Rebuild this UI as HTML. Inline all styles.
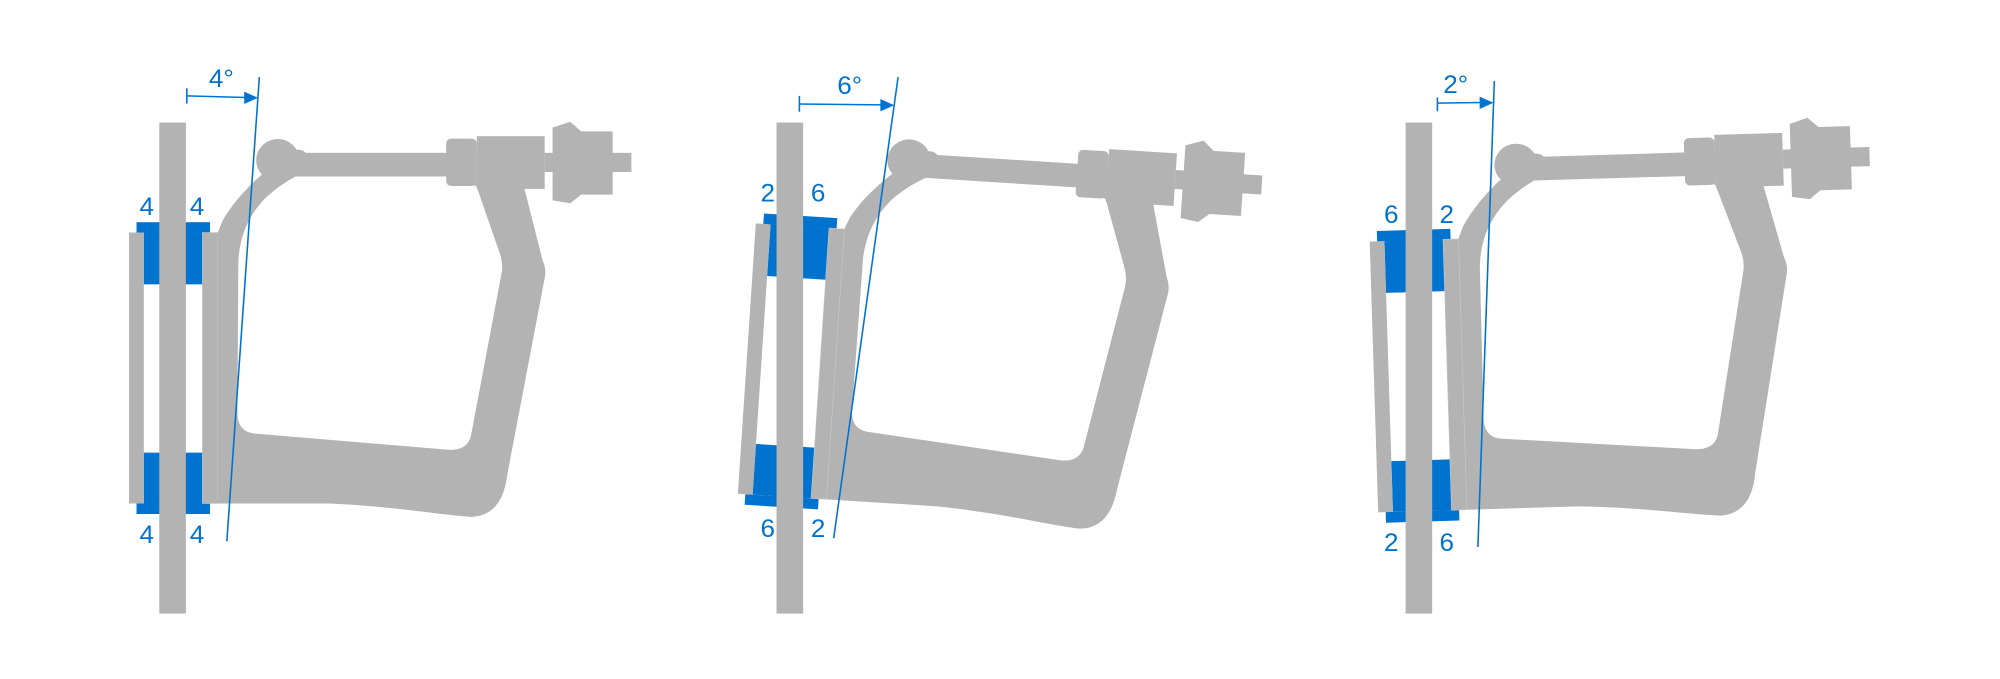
<!DOCTYPE html>
<html><head><meta charset="utf-8">
<style>
html,body{margin:0;padding:0;background:#fff;}
svg{display:block;}
text{font-family:"Liberation Sans",sans-serif;fill:#0073cf;font-size:26.5px;}
</style></head>
<body>
<svg id="chart" width="2000" height="679" viewBox="0 0 2000 679" xmlns="http://www.w3.org/2000/svg"></svg>
<script>
// data
const angleLabels = ["4°", "6°", "2°"];
const tiltDeg = [0, 3.7, -1.75];
const padTop = [["4","4"],["2","6"],["6","2"]];
const padBottom = [["4","4"],["6","2"],["2","6"]];
// layout
const figShift = [0, 11, 19.5];
const offX = [0, 616, 1244];
const offY = [0, -7, 8];
const rodOff = [0, 615.5, 1245.5];
const tiltLine = [[263.3,80.4,230.3,564.5],[900.6,80.4,835.2,561.3],[1497.3,84.4,1480.6,570.4]];
const arrowTick = [[189.7,92,108,100],[800.4,100,116.5,108.4],[1439.5,101.6,116,107.5]];
const arrowTip = [[261.9,102],[896.6,109.7],[1496.4,107.2]];
const degPos = [[212,90.5],[838.8,98],[1445.4,97]];
const padLabelX = [[149,200],[768.3,819.4],[1392.6,1449]];
const padLabelY = [[224,566],[210,560],[232.6,574.4]];

const NS = "http://www.w3.org/2000/svg";
const svg = document.getElementById("chart");
const G = "#b3b3b3", B = "#0073cf";
function mk(tag, attrs, parent){
  const e = document.createElementNS(NS, tag);
  for (const k in attrs) e.setAttribute(k, attrs[k]);
  (parent||svg).appendChild(e);
  return e;
}
for (let i = 0; i < 3; i++) {
  const fig = mk("g", {transform:`translate(${figShift[i]},0) scale(0.985,0.959)`});
  
  
  const g = mk("g", {transform:`translate(${offX[i]},${offY[i]}) rotate(${tiltDeg[i]},175,383)`}, fig);
  
  
  const pads = [[138.6,231.7,74.6,11],[146,242.5,59.5,54],[146,472,59.5,53],[138.6,525,74.6,11]];
  pads.forEach((p) => {
    const r = mk("rect", {x:p[0], y:p[1], width:p[2], height:p[3], fill:B}, g);
    
    
  });
  const ls = mk("rect", {x:131, y:242.5, width:15, height:282.5, fill:G}, g);
  
  
  const rs = mk("rect", {x:205.5, y:242.5, width:15.6, height:282.5, fill:G, stroke:"#c8c8c8", "stroke-width":0.6}, g);
  
  
  const body = mk("path", {fill:G, "fill-rule":"evenodd", d:
    "M221.3,525 L334,525 C400,528 440,536 478,539 Q510,538 515,495 L553,290 Q555,281 551,272 L532,195 L484,195 L484,160 L300,160 L268,180 Q240,205 226,230 L221.3,242 Z " +
    "M300,184 L470,184 L484,195 L508,266 Q511,276 509,286 L478,455 Q474,470 455,469 L258,452 Q241,450 241,430 L242,272 Q244,232 271,205 Q285,192 300,184 Z"}, g);
  
  
  const arm = mk("rect", {x:290, y:159.4, width:170, height:19.9, fill:G}, g);
  
  
  const ball = mk("circle", {cx:282, cy:167, r:22, fill:G}, g);
  
  
  const neck = mk("ellipse", {cx:303, cy:169, rx:11, ry:13, fill:G}, g);
  
  
  const knob = mk("rect", {x:453, y:144.5, width:31, height:49.5, rx:5, fill:G}, g);
  
  
  const head = mk("rect", {x:484, y:142, width:69, height:55, fill:G}, g);
  
  
  const nut = mk("polygon", {points:"561,133 579,127 590,137 622,137 622,203 590,203 579,212 561,209", fill:G}, g);
  
  
  const shaft = mk("rect", {x:553, y:159.4, width:88, height:19.9, fill:G}, g);
  
  
  const rod = mk("rect", {x:161.7 + rodOff[i], y:127.8, width:27, height:512, fill:G}, fig);
  
  
  const t = tiltLine[i];
  const tl = mk("line", {x1:t[0], y1:t[1], x2:t[2], y2:t[3], stroke:B, "stroke-width":1.6}, fig);
  
  
  const a = arrowTick[i], tp = arrowTip[i];
  const tk = mk("line", {x1:a[0], y1:a[1], x2:a[0], y2:a[2], stroke:B, "stroke-width":1.6}, fig);
  
  
  const al = mk("line", {x1:a[0], y1:a[3], x2:tp[0]-12, y2:tp[1]-0.3, stroke:B, "stroke-width":1.6}, fig);
  
  
  const ah = mk("polygon", {points:`${tp[0]},${tp[1]} ${tp[0]-14},${tp[1]-6.5} ${tp[0]-14},${tp[1]+6.5}`, fill:B}, fig);
  
  
  const dl = mk("text", {x:degPos[i][0], y:degPos[i][1]}, fig);
  dl.textContent = angleLabels[i];
  
  
  for (let s = 0; s < 2; s++) {
    const tt = mk("text", {x:padLabelX[i][s], y:padLabelY[i][0], "text-anchor":"middle"}, fig);
    tt.textContent = padTop[i][s];
    
    
    const tb = mk("text", {x:padLabelX[i][s], y:padLabelY[i][1], "text-anchor":"middle"}, fig);
    tb.textContent = padBottom[i][s];
    
    
  }
}
</script>
</body></html>
